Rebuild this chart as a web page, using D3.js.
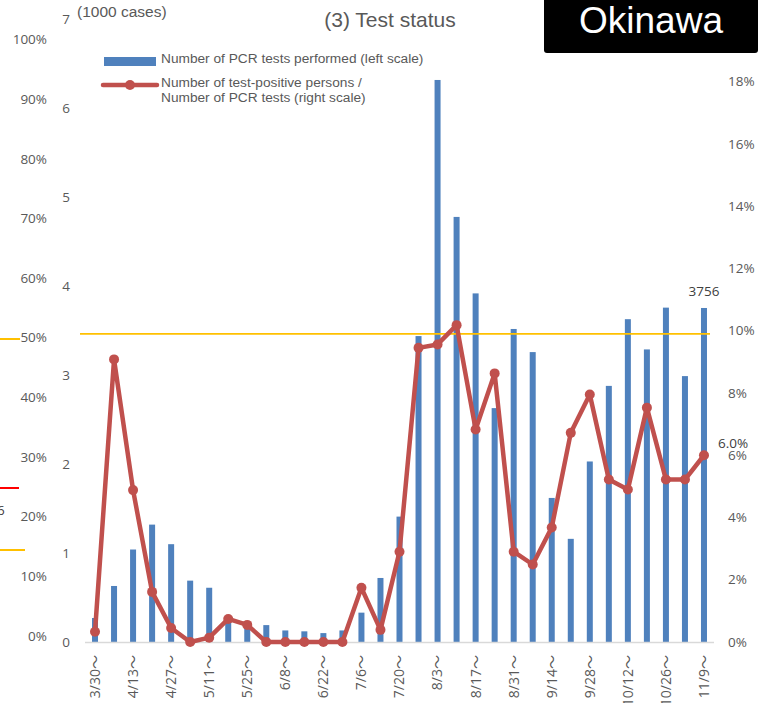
<!DOCTYPE html>
<html>
<head>
<meta charset="utf-8">
<script src="https://cdn.jsdelivr.net/npm/d3@7"></script>
<style>
  html, body { margin: 0; padding: 0; background: #fff; }
  svg { display: block; }
</style>
</head>
<body>
<svg id="chart" width="760" height="703"></svg>
<script>
// Weekly periods (week starting)
const weeks = ["3/30","4/6","4/13","4/20","4/27","5/4","5/11","5/18","5/25","6/1","6/8","6/15","6/22","6/29",
  "7/6","7/13","7/20","7/27","8/3","8/10","8/17","8/24","8/31","9/7","9/14","9/21","9/28","10/5","10/12",
  "10/19","10/26","11/2","11/9"];

// PCR tests performed, in thousands (left scale)
const pcrTests = [0.27,0.63,1.04,1.32,1.10,0.69,0.61,0.28,0.22,0.19,0.13,0.12,0.10,0.13,
  0.33,0.72,1.41,3.44,6.32,4.78,3.92,2.63,3.52,3.26,1.62,1.16,2.03,2.88,3.63,
  3.29,3.76,2.99,3.756];

// Positive persons / PCR tests, in percent (right scale)
const positiveRate = [0.33,9.08,4.88,1.61,0.45,0.0,0.14,0.74,0.55,0.0,0.0,0.0,0.0,0.0,
  1.74,0.39,2.90,9.45,9.56,10.18,6.83,8.63,2.90,2.49,3.68,6.72,7.95,5.22,4.90,
  7.53,5.22,5.22,6.0];

const leftTicks = [0,1,2,3,4,5,6,7];
const rightTicks = [0,2,4,6,8,10,12,14,16,18,20];
const outerPctTicks = [0,10,20,30,40,50,60,70,80,90,100];
const thresholdRate = 9.9;

const svg = d3.select("#chart");
const tickFont = "'Open Sans', 'Noto Sans', 'Noto Sans CJK JP', sans-serif";
const textFont = "'Liberation Sans', Arial, sans-serif";
const grey = "#595959";

const plotTop = 19.5, plotBottom = 642;
const x = d3.scaleBand().domain(weeks).range([85.5, 713.5]).padding(0);
const yL = d3.scaleLinear().domain([0, 7]).range([plotBottom, plotTop]);
const yR = d3.scaleLinear().domain([0, 20]).range([plotBottom, plotTop]);
const cx = d => x(d) + x.bandwidth() / 2;

// Percent axis of the neighbouring panel, visible at the left edge
const yOuter = d3.scaleLinear().domain([0, 100]).range([636, 39.5]);
svg.append("g").selectAll("text").data(outerPctTicks).join("text")
  .attr("x", 47).attr("y", d => yOuter(d)).attr("dy", "0.35em")
  .attr("text-anchor", "end").attr("fill", grey)
  .style("font", `13.5px ${tickFont}`).text(d => d + "%");
svg.append("line").attr("x1", 0).attr("x2", 20).attr("y1", 339).attr("y2", 339)
  .attr("stroke", "#FFC000").attr("stroke-width", 2);
svg.append("line").attr("x1", 0).attr("x2", 19).attr("y1", 488).attr("y2", 488)
  .attr("stroke", "#FF0000").attr("stroke-width", 2);
svg.append("line").attr("x1", 0).attr("x2", 25).attr("y1", 550).attr("y2", 550)
  .attr("stroke", "#FFC000").attr("stroke-width", 2);
svg.append("text").attr("x", -3).attr("y", 510).attr("dy", "0.35em")
  .attr("fill", "#404040").style("font", `13.5px ${tickFont}`).text("6");

// Left axis labels
svg.append("g").selectAll("text").data(leftTicks).join("text")
  .attr("x", 70).attr("y", d => yL(d)).attr("dy", "0.35em")
  .attr("text-anchor", "end").attr("fill", grey)
  .style("font", `13.5px ${tickFont}`).text(d => d);

// Right axis labels
svg.append("g").selectAll("text").data(rightTicks).join("text")
  .attr("x", 728).attr("y", d => yR(d)).attr("dy", "0.35em")
  .attr("text-anchor", "start").attr("fill", grey)
  .style("font", `13.5px ${tickFont}`).text(d => d + "%");

// Bars
const barW = 6;
svg.append("g").selectAll("rect").data(weeks).join("rect")
  .attr("x", d => cx(d) - barW / 2)
  .attr("width", barW)
  .attr("y", (d, i) => yL(pcrTests[i]))
  .attr("height", (d, i) => plotBottom - yL(pcrTests[i]))
  .attr("fill", "#4F81BD");

// Category axis line
svg.append("line").attr("x1", 85).attr("x2", 714).attr("y1", plotBottom + 0.5).attr("y2", plotBottom + 0.5)
  .attr("stroke", "#D9D9D9").attr("stroke-width", 1.5);

// Category labels, every other week
svg.append("g").selectAll("text").data(weeks.filter((d, i) => i % 2 === 0)).join("text")
  .attr("transform", d => `translate(${cx(d)},655) rotate(-90)`)
  .attr("text-anchor", "end").attr("dy", "0.35em").attr("fill", grey)
  .style("font", `14px ${tickFont}`).text(d => d + "～");

// Threshold line
svg.append("line").attr("x1", 80).attr("x2", 710)
  .attr("y1", yR(thresholdRate)).attr("y2", yR(thresholdRate))
  .attr("stroke", "#FFC000").attr("stroke-width", 1.8);

// Positive rate line with markers
const line = d3.line().x((d, i) => cx(weeks[i])).y(d => yR(d));
svg.append("path").datum(positiveRate).attr("d", line)
  .attr("fill", "none").attr("stroke", "#C0504D").attr("stroke-width", 4.5)
  .attr("stroke-linejoin", "round");
svg.append("g").selectAll("circle").data(positiveRate).join("circle")
  .attr("cx", (d, i) => cx(weeks[i])).attr("cy", d => yR(d)).attr("r", 5)
  .attr("fill", "#C0504D");

// Data labels on the latest week
const last = weeks.length - 1;
svg.append("text").attr("x", cx(weeks[last])).attr("y", yL(pcrTests[last]) - 12)
  .attr("text-anchor", "middle").attr("fill", "#404040")
  .style("font", `13.5px ${tickFont}`).text(Math.round(pcrTests[last] * 1000));
svg.append("text").attr("x", 718).attr("y", yR(positiveRate[last]) - 12).attr("dy", "0.35em")
  .attr("fill", "#404040")
  .style("font", `13.5px ${tickFont}`).text(positiveRate[last].toFixed(1) + "%");

// Titles
svg.append("text").attr("x", 77).attr("y", 17).attr("fill", grey)
  .style("font", `15.5px ${textFont}`).text("(1000 cases)");
svg.append("text").attr("x", 390).attr("y", 27).attr("text-anchor", "middle").attr("fill", grey)
  .style("font", `21px ${textFont}`).text("(3) Test status");

// Region badge
svg.append("rect").attr("x", 544).attr("y", -5).attr("width", 214).attr("height", 58).attr("rx", 3)
  .attr("fill", "#000");
svg.append("text").attr("x", 651).attr("y", 33).attr("text-anchor", "middle").attr("fill", "#fff")
  .style("font", `37px ${textFont}`).text("Okinawa");

// Legend
const legend = svg.append("g");
legend.append("rect").attr("x", 104).attr("y", 57).attr("width", 52).attr("height", 9).attr("fill", "#4F81BD");
legend.append("text").attr("x", 161).attr("y", 63).attr("fill", grey)
  .style("font", `13.7px ${textFont}`).text("Number of PCR tests performed (left scale)");
legend.append("line").attr("x1", 103).attr("x2", 157).attr("y1", 85).attr("y2", 85)
  .attr("stroke", "#C0504D").attr("stroke-width", 4.5).attr("stroke-linecap", "round");
legend.append("circle").attr("cx", 130).attr("cy", 85).attr("r", 5).attr("fill", "#C0504D");
legend.append("text").attr("x", 161).attr("y", 86.5).attr("fill", grey)
  .style("font", `13.7px ${textFont}`).text("Number of test-positive persons /");
legend.append("text").attr("x", 161).attr("y", 101.5).attr("fill", grey)
  .style("font", `13.7px ${textFont}`).text("Number of PCR tests (right scale)");
</script>
</body>
</html>
